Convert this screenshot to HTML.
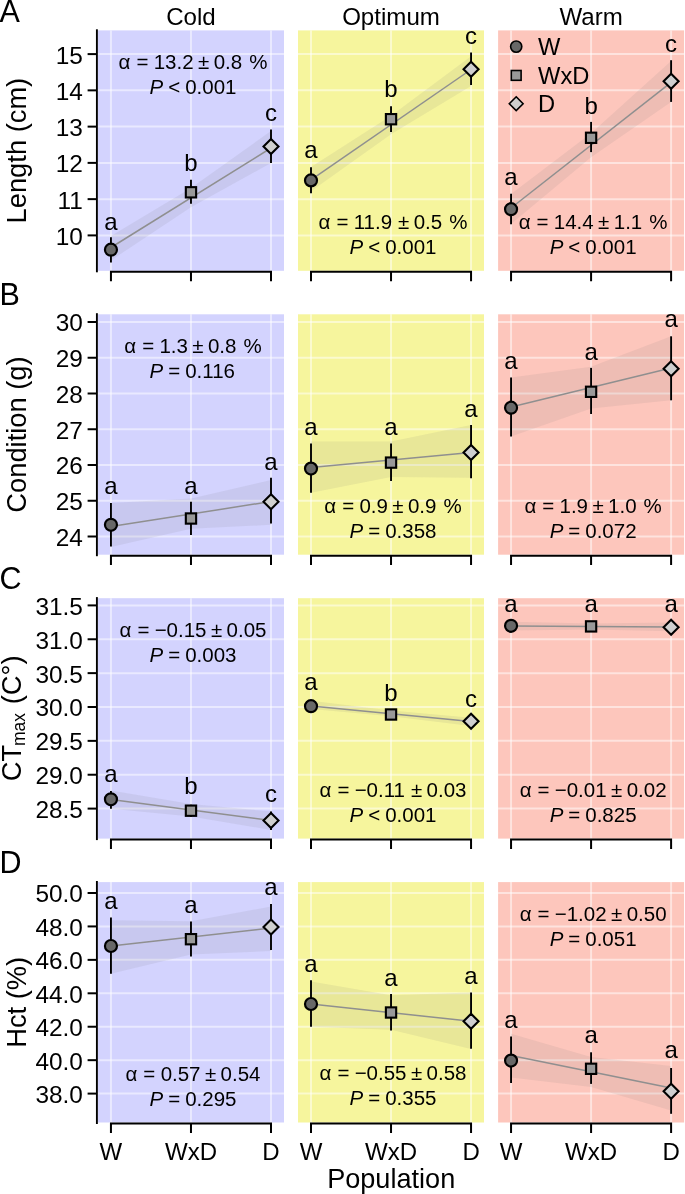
<!DOCTYPE html><html><head><meta charset="utf-8"><style>html,body{margin:0;padding:0;background:#fff;}svg{display:block;will-change:transform;}text{font-family:"Liberation Sans", sans-serif;}</style></head><body>
<svg width="685" height="1194" viewBox="0 0 685 1194">
<rect x="98" y="30.4" width="186" height="240.4" fill="rgb(211,211,254)"/>
<path d="M98 235.4H284M98 199.14H284M98 162.88H284M98 126.62H284M98 90.36H284M98 54.1H284" stroke="rgba(255,255,255,0.5)" stroke-width="2" fill="none"/>
<path d="M110.95 30.4V270.8M190.98 30.4V270.8M271 30.4V270.8" stroke="rgba(255,255,255,0.5)" stroke-width="2" fill="none"/>
<polygon points="110.95,236 190.98,188.01 271,131 271,163 190.98,207.19 110.95,260.4" fill="rgba(116,116,116,0.108)"/>
<line x1="110.95" y1="247.5" x2="271" y2="148" stroke="#8f8f8f" stroke-width="1.5"/>
<line x1="110.95" y1="237.2" x2="110.95" y2="262.5" stroke="#000" stroke-width="1.9"/>
<line x1="190.98" y1="179.7" x2="190.98" y2="203.7" stroke="#000" stroke-width="1.9"/>
<line x1="271" y1="129.5" x2="271" y2="163" stroke="#000" stroke-width="1.9"/>
<circle cx="110.95" cy="249.7" r="6" fill="#686868" stroke="#000" stroke-width="2.2"/>
<text x="110.95" y="229.6" font-size="24" text-anchor="middle">a</text>
<rect x="185.83" y="187.15" width="10.3" height="10.3" fill="#999" stroke="#000" stroke-width="2.1"/>
<text x="190.98" y="171.2" font-size="24" text-anchor="middle">b</text>
<path d="M271 138.9L278.5 146.4L271 153.9L263.5 146.4Z" fill="#cfcfcf" stroke="#000" stroke-width="2.1" stroke-linejoin="miter"/>
<text x="271" y="121" font-size="24" text-anchor="middle">c</text>
<text y="69" font-size="20.5"><tspan x="118.6">α</tspan><tspan x="136.45">=</tspan><tspan x="153.72">13.2</tspan><tspan x="198.02">±</tspan><tspan x="213.67">0.8</tspan><tspan x="249.17">%</tspan></text>
<text y="94" font-size="20.5"><tspan x="149.53" font-style="italic">P</tspan><tspan x="168.2"><</tspan><tspan x="185.17">0.001</tspan></text>
<path d="M109.95 271.8H272 M110.95 271.8V281.2 M190.98 271.8V281.2 M271 271.8V281.2" stroke="#000" stroke-width="2" fill="none"/>
<rect x="298" y="30.4" width="186" height="240.4" fill="rgb(246,245,157)"/>
<path d="M298 235.4H484M298 199.14H484M298 162.88H484M298 126.62H484M298 90.36H484M298 54.1H484" stroke="rgba(255,255,255,0.5)" stroke-width="2" fill="none"/>
<path d="M311 30.4V270.8M391.03 30.4V270.8M471.05 30.4V270.8" stroke="rgba(255,255,255,0.5)" stroke-width="2" fill="none"/>
<polygon points="311,166.9 391.03,115.87 471.05,56.2 471.05,85.9 391.03,134.23 311,191.2" fill="rgba(116,116,116,0.108)"/>
<line x1="311" y1="179.9" x2="471.05" y2="69.5" stroke="#8f8f8f" stroke-width="1.5"/>
<line x1="311" y1="167.2" x2="311" y2="193.3" stroke="#000" stroke-width="1.9"/>
<line x1="391.03" y1="106.3" x2="391.03" y2="132.1" stroke="#000" stroke-width="1.9"/>
<line x1="471.05" y1="52.5" x2="471.05" y2="84.9" stroke="#000" stroke-width="1.9"/>
<circle cx="311" cy="180.4" r="6" fill="#686868" stroke="#000" stroke-width="2.2"/>
<text x="311" y="158.4" font-size="24" text-anchor="middle">a</text>
<rect x="385.88" y="114.05" width="10.3" height="10.3" fill="#999" stroke="#000" stroke-width="2.1"/>
<text x="391.03" y="97.2" font-size="24" text-anchor="middle">b</text>
<path d="M471.05 61.7L478.55 69.2L471.05 76.7L463.55 69.2Z" fill="#cfcfcf" stroke="#000" stroke-width="2.1" stroke-linejoin="miter"/>
<text x="471.05" y="43.7" font-size="24" text-anchor="middle">c</text>
<text y="229" font-size="20.5"><tspan x="318.6">α</tspan><tspan x="336.45">=</tspan><tspan x="353.72">11.9</tspan><tspan x="398.02">±</tspan><tspan x="413.67">0.5</tspan><tspan x="449.17">%</tspan></text>
<text y="253.7" font-size="20.5"><tspan x="349.53" font-style="italic">P</tspan><tspan x="368.2"><</tspan><tspan x="385.17">0.001</tspan></text>
<path d="M310 271.8H472.05 M311 271.8V281.2 M391.03 271.8V281.2 M471.05 271.8V281.2" stroke="#000" stroke-width="2" fill="none"/>
<rect x="498.1" y="30.4" width="186" height="240.4" fill="rgb(253,198,188)"/>
<path d="M498.1 235.4H684.1M498.1 199.14H684.1M498.1 162.88H684.1M498.1 126.62H684.1M498.1 90.36H684.1M498.1 54.1H684.1" stroke="rgba(255,255,255,0.5)" stroke-width="2" fill="none"/>
<path d="M511.05 30.4V270.8M591.08 30.4V270.8M671.1 30.4V270.8" stroke="rgba(255,255,255,0.5)" stroke-width="2" fill="none"/>
<polygon points="511.05,194 591.08,133.18 671.1,61 671.1,102 591.08,157.32 511.05,224" fill="rgba(116,116,116,0.108)"/>
<line x1="511.05" y1="208" x2="671.1" y2="82.4" stroke="#8f8f8f" stroke-width="1.5"/>
<line x1="511.05" y1="193.8" x2="511.05" y2="224.3" stroke="#000" stroke-width="1.9"/>
<line x1="591.08" y1="121.9" x2="591.08" y2="152.1" stroke="#000" stroke-width="1.9"/>
<line x1="671.1" y1="60.2" x2="671.1" y2="101.9" stroke="#000" stroke-width="1.9"/>
<circle cx="511.05" cy="209.2" r="6" fill="#686868" stroke="#000" stroke-width="2.2"/>
<text x="511.05" y="185" font-size="24" text-anchor="middle">a</text>
<rect x="585.93" y="132.65" width="10.3" height="10.3" fill="#999" stroke="#000" stroke-width="2.1"/>
<text x="591.08" y="113.7" font-size="24" text-anchor="middle">b</text>
<path d="M671.1 73.8L678.6 81.3L671.1 88.8L663.6 81.3Z" fill="#cfcfcf" stroke="#000" stroke-width="2.1" stroke-linejoin="miter"/>
<text x="671.1" y="52" font-size="24" text-anchor="middle">c</text>
<text y="229" font-size="20.5"><tspan x="518.7">α</tspan><tspan x="536.55">=</tspan><tspan x="553.82">14.4</tspan><tspan x="598.12">±</tspan><tspan x="613.77">1.1</tspan><tspan x="649.27">%</tspan></text>
<text y="253.7" font-size="20.5"><tspan x="549.63" font-style="italic">P</tspan><tspan x="568.3"><</tspan><tspan x="585.27">0.001</tspan></text>
<path d="M510.05 271.8H672.1 M511.05 271.8V281.2 M591.08 271.8V281.2 M671.1 271.8V281.2" stroke="#000" stroke-width="2" fill="none"/>
<line x1="96.9" y1="29.3" x2="96.9" y2="272.3" stroke="#000" stroke-width="1.9"/>
<line x1="87.6" y1="235.4" x2="96.9" y2="235.4" stroke="#000" stroke-width="2"/>
<text x="82.9" y="244.8" font-size="24.4" text-anchor="end">10</text>
<line x1="87.6" y1="199.14" x2="96.9" y2="199.14" stroke="#000" stroke-width="2"/>
<text x="82.9" y="208.54" font-size="24.4" text-anchor="end">11</text>
<line x1="87.6" y1="162.88" x2="96.9" y2="162.88" stroke="#000" stroke-width="2"/>
<text x="82.9" y="172.28" font-size="24.4" text-anchor="end">12</text>
<line x1="87.6" y1="126.62" x2="96.9" y2="126.62" stroke="#000" stroke-width="2"/>
<text x="82.9" y="136.02" font-size="24.4" text-anchor="end">13</text>
<line x1="87.6" y1="90.36" x2="96.9" y2="90.36" stroke="#000" stroke-width="2"/>
<text x="82.9" y="99.76" font-size="24.4" text-anchor="end">14</text>
<line x1="87.6" y1="54.1" x2="96.9" y2="54.1" stroke="#000" stroke-width="2"/>
<text x="82.9" y="63.5" font-size="24.4" text-anchor="end">15</text>
<rect x="98" y="314.3" width="186" height="240.4" fill="rgb(211,211,254)"/>
<path d="M98 536.5H284M98 500.75H284M98 465H284M98 429.25H284M98 393.5H284M98 357.75H284M98 322H284" stroke="rgba(255,255,255,0.5)" stroke-width="2" fill="none"/>
<path d="M110.95 314.3V554.7M190.98 314.3V554.7M271 314.3V554.7" stroke="rgba(255,255,255,0.5)" stroke-width="2" fill="none"/>
<polygon points="110.95,503 190.98,498.6 271,480 271,524.8 190.98,528.8 110.95,547" fill="rgba(116,116,116,0.108)"/>
<line x1="110.95" y1="526.6" x2="271" y2="501.5" stroke="#8f8f8f" stroke-width="1.5"/>
<line x1="110.95" y1="503" x2="110.95" y2="546.5" stroke="#000" stroke-width="1.9"/>
<line x1="190.98" y1="501.7" x2="190.98" y2="535.1" stroke="#000" stroke-width="1.9"/>
<line x1="271" y1="477.8" x2="271" y2="523.4" stroke="#000" stroke-width="1.9"/>
<circle cx="110.95" cy="524.8" r="6" fill="#686868" stroke="#000" stroke-width="2.2"/>
<text x="110.95" y="494.4" font-size="24" text-anchor="middle">a</text>
<rect x="185.83" y="513.35" width="10.3" height="10.3" fill="#999" stroke="#000" stroke-width="2.1"/>
<text x="190.98" y="493.6" font-size="24" text-anchor="middle">a</text>
<path d="M271 494.2L278.5 501.7L271 509.2L263.5 501.7Z" fill="#cfcfcf" stroke="#000" stroke-width="2.1" stroke-linejoin="miter"/>
<text x="271" y="470" font-size="24" text-anchor="middle">a</text>
<text y="353.2" font-size="20.5"><tspan x="124.3">α</tspan><tspan x="142.15">=</tspan><tspan x="159.42">1.3</tspan><tspan x="192.32">±</tspan><tspan x="207.97">0.8</tspan><tspan x="243.47">%</tspan></text>
<text y="378.2" font-size="20.5"><tspan x="149.53" font-style="italic">P</tspan><tspan x="168.2">=</tspan><tspan x="185.17">0.116</tspan></text>
<path d="M109.95 555.7H272 M110.95 555.7V565.1 M190.98 555.7V565.1 M271 555.7V565.1" stroke="#000" stroke-width="2" fill="none"/>
<rect x="298" y="314.3" width="186" height="240.4" fill="rgb(246,245,157)"/>
<path d="M298 536.5H484M298 500.75H484M298 465H484M298 429.25H484M298 393.5H484M298 357.75H484M298 322H484" stroke="rgba(255,255,255,0.5)" stroke-width="2" fill="none"/>
<path d="M311 314.3V554.7M391.03 314.3V554.7M471.05 314.3V554.7" stroke="rgba(255,255,255,0.5)" stroke-width="2" fill="none"/>
<polygon points="311,441.5 391.03,441.56 471.05,425 471.05,477.7 391.03,476.89 311,492.7" fill="rgba(116,116,116,0.108)"/>
<line x1="311" y1="467.6" x2="471.05" y2="452.4" stroke="#8f8f8f" stroke-width="1.5"/>
<line x1="311" y1="443.4" x2="311" y2="492.7" stroke="#000" stroke-width="1.9"/>
<line x1="391.03" y1="443.4" x2="391.03" y2="481" stroke="#000" stroke-width="1.9"/>
<line x1="471.05" y1="425" x2="471.05" y2="478.2" stroke="#000" stroke-width="1.9"/>
<circle cx="311" cy="468.6" r="6" fill="#686868" stroke="#000" stroke-width="2.2"/>
<text x="311" y="434.6" font-size="24" text-anchor="middle">a</text>
<rect x="385.88" y="457.45" width="10.3" height="10.3" fill="#999" stroke="#000" stroke-width="2.1"/>
<text x="391.03" y="434.6" font-size="24" text-anchor="middle">a</text>
<path d="M471.05 444.9L478.55 452.4L471.05 459.9L463.55 452.4Z" fill="#cfcfcf" stroke="#000" stroke-width="2.1" stroke-linejoin="miter"/>
<text x="471.05" y="416.7" font-size="24" text-anchor="middle">a</text>
<text y="513.3" font-size="20.5"><tspan x="324.3">α</tspan><tspan x="342.15">=</tspan><tspan x="359.42">0.9</tspan><tspan x="392.32">±</tspan><tspan x="407.97">0.9</tspan><tspan x="443.47">%</tspan></text>
<text y="538" font-size="20.5"><tspan x="349.53" font-style="italic">P</tspan><tspan x="368.2">=</tspan><tspan x="385.17">0.358</tspan></text>
<path d="M310 555.7H472.05 M311 555.7V565.1 M391.03 555.7V565.1 M471.05 555.7V565.1" stroke="#000" stroke-width="2" fill="none"/>
<rect x="498.1" y="314.3" width="186" height="240.4" fill="rgb(253,198,188)"/>
<path d="M498.1 536.5H684.1M498.1 500.75H684.1M498.1 465H684.1M498.1 429.25H684.1M498.1 393.5H684.1M498.1 357.75H684.1M498.1 322H684.1" stroke="rgba(255,255,255,0.5)" stroke-width="2" fill="none"/>
<path d="M511.05 314.3V554.7M591.08 314.3V554.7M671.1 314.3V554.7" stroke="rgba(255,255,255,0.5)" stroke-width="2" fill="none"/>
<polygon points="511.05,377.5 591.08,366.74 671.1,336.3 671.1,400.3 591.08,408.56 511.05,436.5" fill="rgba(116,116,116,0.108)"/>
<line x1="511.05" y1="407" x2="671.1" y2="368" stroke="#8f8f8f" stroke-width="1.5"/>
<line x1="511.05" y1="377.5" x2="511.05" y2="436.5" stroke="#000" stroke-width="1.9"/>
<line x1="591.08" y1="367.9" x2="591.08" y2="414" stroke="#000" stroke-width="1.9"/>
<line x1="671.1" y1="336.3" x2="671.1" y2="400.3" stroke="#000" stroke-width="1.9"/>
<circle cx="511.05" cy="407.7" r="6" fill="#686868" stroke="#000" stroke-width="2.2"/>
<text x="511.05" y="369.3" font-size="24" text-anchor="middle">a</text>
<rect x="585.93" y="386.65" width="10.3" height="10.3" fill="#999" stroke="#000" stroke-width="2.1"/>
<text x="591.08" y="359.7" font-size="24" text-anchor="middle">a</text>
<path d="M671.1 361.2L678.6 368.7L671.1 376.2L663.6 368.7Z" fill="#cfcfcf" stroke="#000" stroke-width="2.1" stroke-linejoin="miter"/>
<text x="671.1" y="326.7" font-size="24" text-anchor="middle">a</text>
<text y="513.3" font-size="20.5"><tspan x="524.4">α</tspan><tspan x="542.25">=</tspan><tspan x="559.52">1.9</tspan><tspan x="592.42">±</tspan><tspan x="608.07">1.0</tspan><tspan x="643.57">%</tspan></text>
<text y="538" font-size="20.5"><tspan x="549.63" font-style="italic">P</tspan><tspan x="568.3">=</tspan><tspan x="585.27">0.072</tspan></text>
<path d="M510.05 555.7H672.1 M511.05 555.7V565.1 M591.08 555.7V565.1 M671.1 555.7V565.1" stroke="#000" stroke-width="2" fill="none"/>
<line x1="96.9" y1="313.2" x2="96.9" y2="556.2" stroke="#000" stroke-width="1.9"/>
<line x1="87.6" y1="536.5" x2="96.9" y2="536.5" stroke="#000" stroke-width="2"/>
<text x="82.9" y="545.9" font-size="24.4" text-anchor="end">24</text>
<line x1="87.6" y1="500.75" x2="96.9" y2="500.75" stroke="#000" stroke-width="2"/>
<text x="82.9" y="510.15" font-size="24.4" text-anchor="end">25</text>
<line x1="87.6" y1="465" x2="96.9" y2="465" stroke="#000" stroke-width="2"/>
<text x="82.9" y="474.4" font-size="24.4" text-anchor="end">26</text>
<line x1="87.6" y1="429.25" x2="96.9" y2="429.25" stroke="#000" stroke-width="2"/>
<text x="82.9" y="438.65" font-size="24.4" text-anchor="end">27</text>
<line x1="87.6" y1="393.5" x2="96.9" y2="393.5" stroke="#000" stroke-width="2"/>
<text x="82.9" y="402.9" font-size="24.4" text-anchor="end">28</text>
<line x1="87.6" y1="357.75" x2="96.9" y2="357.75" stroke="#000" stroke-width="2"/>
<text x="82.9" y="367.15" font-size="24.4" text-anchor="end">29</text>
<line x1="87.6" y1="322" x2="96.9" y2="322" stroke="#000" stroke-width="2"/>
<text x="82.9" y="331.4" font-size="24.4" text-anchor="end">30</text>
<rect x="98" y="598.2" width="186" height="240.4" fill="rgb(211,211,254)"/>
<path d="M98 808.6H284M98 774.73H284M98 740.87H284M98 707H284M98 673.13H284M98 639.27H284M98 605.4H284" stroke="rgba(255,255,255,0.5)" stroke-width="2" fill="none"/>
<path d="M110.95 598.2V838.6M190.98 598.2V838.6M271 598.2V838.6" stroke="rgba(255,255,255,0.5)" stroke-width="2" fill="none"/>
<polygon points="110.95,790.6 190.98,803.99 271,811.5 271,830 190.98,816.46 110.95,808.8" fill="rgba(116,116,116,0.108)"/>
<line x1="110.95" y1="799.5" x2="271" y2="820.5" stroke="#8f8f8f" stroke-width="1.5"/>
<line x1="110.95" y1="791.1" x2="110.95" y2="808.8" stroke="#000" stroke-width="1.9"/>
<line x1="190.98" y1="804.7" x2="190.98" y2="816.9" stroke="#000" stroke-width="1.9"/>
<line x1="271" y1="811.5" x2="271" y2="830" stroke="#000" stroke-width="1.9"/>
<circle cx="110.95" cy="799.3" r="6" fill="#686868" stroke="#000" stroke-width="2.2"/>
<text x="110.95" y="781.6" font-size="24" text-anchor="middle">a</text>
<rect x="185.83" y="805.55" width="10.3" height="10.3" fill="#999" stroke="#000" stroke-width="2.1"/>
<text x="190.98" y="793.9" font-size="24" text-anchor="middle">b</text>
<path d="M271 813L278.5 820.5L271 828L263.5 820.5Z" fill="#cfcfcf" stroke="#000" stroke-width="2.1" stroke-linejoin="miter"/>
<text x="271" y="802" font-size="24" text-anchor="middle">c</text>
<text y="637.2" font-size="20.5"><tspan x="119.53">α</tspan><tspan x="137.38">=</tspan><tspan x="154.65">−0.15</tspan><tspan x="210.92">±</tspan><tspan x="226.57">0.05</tspan></text>
<text y="662.2" font-size="20.5"><tspan x="149.53" font-style="italic">P</tspan><tspan x="168.2">=</tspan><tspan x="185.17">0.003</tspan></text>
<path d="M109.95 839.6H272 M110.95 839.6V849 M190.98 839.6V849 M271 839.6V849" stroke="#000" stroke-width="2" fill="none"/>
<rect x="298" y="598.2" width="186" height="240.4" fill="rgb(246,245,157)"/>
<path d="M298 808.6H484M298 774.73H484M298 740.87H484M298 707H484M298 673.13H484M298 639.27H484M298 605.4H484" stroke="rgba(255,255,255,0.5)" stroke-width="2" fill="none"/>
<path d="M311 598.2V838.6M391.03 598.2V838.6M471.05 598.2V838.6" stroke="rgba(255,255,255,0.5)" stroke-width="2" fill="none"/>
<polygon points="311,700.7 391.03,710.53 471.05,717.7 471.05,726 391.03,716.17 311,709" fill="rgba(116,116,116,0.108)"/>
<line x1="311" y1="706" x2="471.05" y2="721.5" stroke="#8f8f8f" stroke-width="1.5"/>
<line x1="311" y1="702" x2="311" y2="710" stroke="#000" stroke-width="1.9"/>
<line x1="391.03" y1="711" x2="391.03" y2="718" stroke="#000" stroke-width="1.9"/>
<line x1="471.05" y1="718" x2="471.05" y2="725" stroke="#000" stroke-width="1.9"/>
<circle cx="311" cy="706.2" r="6" fill="#686868" stroke="#000" stroke-width="2.2"/>
<text x="311" y="690.3" font-size="24" text-anchor="middle">a</text>
<rect x="385.88" y="709.35" width="10.3" height="10.3" fill="#999" stroke="#000" stroke-width="2.1"/>
<text x="391.03" y="700.7" font-size="24" text-anchor="middle">b</text>
<path d="M471.05 713.8L478.55 721.3L471.05 728.8L463.55 721.3Z" fill="#cfcfcf" stroke="#000" stroke-width="2.1" stroke-linejoin="miter"/>
<text x="471.05" y="706.8" font-size="24" text-anchor="middle">c</text>
<text y="796.8" font-size="20.5"><tspan x="319.53">α</tspan><tspan x="337.38">=</tspan><tspan x="354.65">−0.11</tspan><tspan x="410.92">±</tspan><tspan x="426.57">0.03</tspan></text>
<text y="822" font-size="20.5"><tspan x="349.53" font-style="italic">P</tspan><tspan x="368.2"><</tspan><tspan x="385.17">0.001</tspan></text>
<path d="M310 839.6H472.05 M311 839.6V849 M391.03 839.6V849 M471.05 839.6V849" stroke="#000" stroke-width="2" fill="none"/>
<rect x="498.1" y="598.2" width="186" height="240.4" fill="rgb(253,198,188)"/>
<path d="M498.1 808.6H684.1M498.1 774.73H684.1M498.1 740.87H684.1M498.1 707H684.1M498.1 673.13H684.1M498.1 639.27H684.1M498.1 605.4H684.1" stroke="rgba(255,255,255,0.5)" stroke-width="2" fill="none"/>
<path d="M511.05 598.2V838.6M591.08 598.2V838.6M671.1 598.2V838.6" stroke="rgba(255,255,255,0.5)" stroke-width="2" fill="none"/>
<polygon points="511.05,621.7 591.08,623.51 671.1,622.5 671.1,631.3 591.08,629.49 511.05,630.5" fill="rgba(116,116,116,0.108)"/>
<line x1="511.05" y1="626" x2="671.1" y2="627" stroke="#8f8f8f" stroke-width="1.5"/>
<line x1="511.05" y1="624" x2="511.05" y2="628" stroke="#000" stroke-width="1.9"/>
<line x1="591.08" y1="624" x2="591.08" y2="628" stroke="#000" stroke-width="1.9"/>
<line x1="671.1" y1="625" x2="671.1" y2="629" stroke="#000" stroke-width="1.9"/>
<circle cx="511.05" cy="625.8" r="6" fill="#686868" stroke="#000" stroke-width="2.2"/>
<text x="511.05" y="612.1" font-size="24" text-anchor="middle">a</text>
<rect x="585.93" y="621.25" width="10.3" height="10.3" fill="#999" stroke="#000" stroke-width="2.1"/>
<text x="591.08" y="612.1" font-size="24" text-anchor="middle">a</text>
<path d="M671.1 619.7L678.6 627.2L671.1 634.7L663.6 627.2Z" fill="#cfcfcf" stroke="#000" stroke-width="2.1" stroke-linejoin="miter"/>
<text x="671.1" y="612.1" font-size="24" text-anchor="middle">a</text>
<text y="796.8" font-size="20.5"><tspan x="519.63">α</tspan><tspan x="537.48">=</tspan><tspan x="554.75">−0.01</tspan><tspan x="611.02">±</tspan><tspan x="626.67">0.02</tspan></text>
<text y="822" font-size="20.5"><tspan x="549.63" font-style="italic">P</tspan><tspan x="568.3">=</tspan><tspan x="585.27">0.825</tspan></text>
<path d="M510.05 839.6H672.1 M511.05 839.6V849 M591.08 839.6V849 M671.1 839.6V849" stroke="#000" stroke-width="2" fill="none"/>
<line x1="96.9" y1="597.1" x2="96.9" y2="840.1" stroke="#000" stroke-width="1.9"/>
<line x1="87.6" y1="808.6" x2="96.9" y2="808.6" stroke="#000" stroke-width="2"/>
<text x="82.9" y="818" font-size="24.4" text-anchor="end">28.5</text>
<line x1="87.6" y1="774.73" x2="96.9" y2="774.73" stroke="#000" stroke-width="2"/>
<text x="82.9" y="784.13" font-size="24.4" text-anchor="end">29.0</text>
<line x1="87.6" y1="740.87" x2="96.9" y2="740.87" stroke="#000" stroke-width="2"/>
<text x="82.9" y="750.27" font-size="24.4" text-anchor="end">29.5</text>
<line x1="87.6" y1="707" x2="96.9" y2="707" stroke="#000" stroke-width="2"/>
<text x="82.9" y="716.4" font-size="24.4" text-anchor="end">30.0</text>
<line x1="87.6" y1="673.13" x2="96.9" y2="673.13" stroke="#000" stroke-width="2"/>
<text x="82.9" y="682.53" font-size="24.4" text-anchor="end">30.5</text>
<line x1="87.6" y1="639.27" x2="96.9" y2="639.27" stroke="#000" stroke-width="2"/>
<text x="82.9" y="648.67" font-size="24.4" text-anchor="end">31.0</text>
<line x1="87.6" y1="605.4" x2="96.9" y2="605.4" stroke="#000" stroke-width="2"/>
<text x="82.9" y="614.8" font-size="24.4" text-anchor="end">31.5</text>
<rect x="98" y="882.1" width="186" height="240.4" fill="rgb(211,211,254)"/>
<path d="M98 1093.6H284M98 1060.17H284M98 1026.73H284M98 993.3H284M98 959.87H284M98 926.43H284M98 893H284" stroke="rgba(255,255,255,0.5)" stroke-width="2" fill="none"/>
<path d="M110.95 882.1V1122.5M190.98 882.1V1122.5M271 882.1V1122.5" stroke="rgba(255,255,255,0.5)" stroke-width="2" fill="none"/>
<polygon points="110.95,920.2 190.98,921.24 271,906.6 271,951.1 190.98,954.56 110.95,973.7" fill="rgba(116,116,116,0.108)"/>
<line x1="110.95" y1="946" x2="271" y2="928" stroke="#8f8f8f" stroke-width="1.5"/>
<line x1="110.95" y1="917.5" x2="110.95" y2="973.7" stroke="#000" stroke-width="1.9"/>
<line x1="190.98" y1="921.5" x2="190.98" y2="956.6" stroke="#000" stroke-width="1.9"/>
<line x1="271" y1="903.9" x2="271" y2="950" stroke="#000" stroke-width="1.9"/>
<circle cx="110.95" cy="946" r="6" fill="#686868" stroke="#000" stroke-width="2.2"/>
<text x="110.95" y="908.5" font-size="24" text-anchor="middle">a</text>
<rect x="185.83" y="934.05" width="10.3" height="10.3" fill="#999" stroke="#000" stroke-width="2.1"/>
<text x="190.98" y="912.6" font-size="24" text-anchor="middle">a</text>
<path d="M271 919.5L278.5 927L271 934.5L263.5 927Z" fill="#cfcfcf" stroke="#000" stroke-width="2.1" stroke-linejoin="miter"/>
<text x="271" y="895" font-size="24" text-anchor="middle">a</text>
<text y="1081" font-size="20.5"><tspan x="125.51">α</tspan><tspan x="143.37">=</tspan><tspan x="160.64">0.57</tspan><tspan x="204.94">±</tspan><tspan x="220.59">0.54</tspan></text>
<text y="1105.9" font-size="20.5"><tspan x="149.53" font-style="italic">P</tspan><tspan x="168.2">=</tspan><tspan x="185.17">0.295</tspan></text>
<path d="M109.95 1123.5H272 M110.95 1123.5V1132.9 M190.98 1123.5V1132.9 M271 1123.5V1132.9" stroke="#000" stroke-width="2" fill="none"/>
<text x="110.95" y="1159.8" font-size="24" text-anchor="middle">W</text>
<text x="190.98" y="1159.8" font-size="24" text-anchor="middle">WxD</text>
<text x="271" y="1159.8" font-size="24" text-anchor="middle">D</text>
<rect x="298" y="882.1" width="186" height="240.4" fill="rgb(246,245,157)"/>
<path d="M298 1093.6H484M298 1060.17H484M298 1026.73H484M298 993.3H484M298 959.87H484M298 926.43H484M298 893H484" stroke="rgba(255,255,255,0.5)" stroke-width="2" fill="none"/>
<path d="M311 882.1V1122.5M391.03 882.1V1122.5M471.05 882.1V1122.5" stroke="rgba(255,255,255,0.5)" stroke-width="2" fill="none"/>
<polygon points="311,981.5 391.03,995.14 471.05,992.5 471.05,1049 391.03,1029.76 311,1026.8" fill="rgba(116,116,116,0.108)"/>
<line x1="311" y1="1004" x2="471.05" y2="1021.3" stroke="#8f8f8f" stroke-width="1.5"/>
<line x1="311" y1="980.2" x2="311" y2="1026.8" stroke="#000" stroke-width="1.9"/>
<line x1="391.03" y1="993.9" x2="391.03" y2="1030.4" stroke="#000" stroke-width="1.9"/>
<line x1="471.05" y1="992.5" x2="471.05" y2="1048.8" stroke="#000" stroke-width="1.9"/>
<circle cx="311" cy="1004" r="6" fill="#686868" stroke="#000" stroke-width="2.2"/>
<text x="311" y="971.9" font-size="24" text-anchor="middle">a</text>
<rect x="385.88" y="1007.35" width="10.3" height="10.3" fill="#999" stroke="#000" stroke-width="2.1"/>
<text x="391.03" y="985.7" font-size="24" text-anchor="middle">a</text>
<path d="M471.05 1013.8L478.55 1021.3L471.05 1028.8L463.55 1021.3Z" fill="#cfcfcf" stroke="#000" stroke-width="2.1" stroke-linejoin="miter"/>
<text x="471.05" y="984.3" font-size="24" text-anchor="middle">a</text>
<text y="1079.8" font-size="20.5"><tspan x="319.53">α</tspan><tspan x="337.38">=</tspan><tspan x="354.65">−0.55</tspan><tspan x="410.92">±</tspan><tspan x="426.57">0.58</tspan></text>
<text y="1105" font-size="20.5"><tspan x="349.53" font-style="italic">P</tspan><tspan x="368.2">=</tspan><tspan x="385.17">0.355</tspan></text>
<path d="M310 1123.5H472.05 M311 1123.5V1132.9 M391.03 1123.5V1132.9 M471.05 1123.5V1132.9" stroke="#000" stroke-width="2" fill="none"/>
<text x="311" y="1159.8" font-size="24" text-anchor="middle">W</text>
<text x="391.03" y="1159.8" font-size="24" text-anchor="middle">WxD</text>
<text x="471.05" y="1159.8" font-size="24" text-anchor="middle">D</text>
<rect x="498.1" y="882.1" width="186" height="240.4" fill="rgb(253,198,188)"/>
<path d="M498.1 1093.6H684.1M498.1 1060.17H684.1M498.1 1026.73H684.1M498.1 993.3H684.1M498.1 959.87H684.1M498.1 926.43H684.1M498.1 893H684.1" stroke="rgba(255,255,255,0.5)" stroke-width="2" fill="none"/>
<path d="M511.05 882.1V1122.5M591.08 882.1V1122.5M671.1 882.1V1122.5" stroke="rgba(255,255,255,0.5)" stroke-width="2" fill="none"/>
<polygon points="511.05,1033.7 591.08,1056.92 671.1,1066 671.1,1110.5 591.08,1086.98 511.05,1077.6" fill="rgba(116,116,116,0.108)"/>
<line x1="511.05" y1="1055.6" x2="671.1" y2="1088" stroke="#8f8f8f" stroke-width="1.5"/>
<line x1="511.05" y1="1036.4" x2="511.05" y2="1083.1" stroke="#000" stroke-width="1.9"/>
<line x1="591.08" y1="1052.3" x2="591.08" y2="1083.9" stroke="#000" stroke-width="1.9"/>
<line x1="671.1" y1="1068" x2="671.1" y2="1113.8" stroke="#000" stroke-width="1.9"/>
<circle cx="511.05" cy="1060.6" r="6" fill="#686868" stroke="#000" stroke-width="2.2"/>
<text x="511.05" y="1027.6" font-size="24" text-anchor="middle">a</text>
<rect x="585.93" y="1063.65" width="10.3" height="10.3" fill="#999" stroke="#000" stroke-width="2.1"/>
<text x="591.08" y="1043.3" font-size="24" text-anchor="middle">a</text>
<path d="M671.1 1083.8L678.6 1091.3L671.1 1098.8L663.6 1091.3Z" fill="#cfcfcf" stroke="#000" stroke-width="2.1" stroke-linejoin="miter"/>
<text x="671.1" y="1058.4" font-size="24" text-anchor="middle">a</text>
<text y="920.6" font-size="20.5"><tspan x="519.63">α</tspan><tspan x="537.48">=</tspan><tspan x="554.75">−1.02</tspan><tspan x="611.02">±</tspan><tspan x="626.67">0.50</tspan></text>
<text y="945.9" font-size="20.5"><tspan x="549.63" font-style="italic">P</tspan><tspan x="568.3">=</tspan><tspan x="585.27">0.051</tspan></text>
<path d="M510.05 1123.5H672.1 M511.05 1123.5V1132.9 M591.08 1123.5V1132.9 M671.1 1123.5V1132.9" stroke="#000" stroke-width="2" fill="none"/>
<text x="511.05" y="1159.8" font-size="24" text-anchor="middle">W</text>
<text x="591.08" y="1159.8" font-size="24" text-anchor="middle">WxD</text>
<text x="671.1" y="1159.8" font-size="24" text-anchor="middle">D</text>
<line x1="96.9" y1="881" x2="96.9" y2="1124" stroke="#000" stroke-width="1.9"/>
<line x1="87.6" y1="1093.6" x2="96.9" y2="1093.6" stroke="#000" stroke-width="2"/>
<text x="82.9" y="1103" font-size="24.4" text-anchor="end">38.0</text>
<line x1="87.6" y1="1060.17" x2="96.9" y2="1060.17" stroke="#000" stroke-width="2"/>
<text x="82.9" y="1069.57" font-size="24.4" text-anchor="end">40.0</text>
<line x1="87.6" y1="1026.73" x2="96.9" y2="1026.73" stroke="#000" stroke-width="2"/>
<text x="82.9" y="1036.13" font-size="24.4" text-anchor="end">42.0</text>
<line x1="87.6" y1="993.3" x2="96.9" y2="993.3" stroke="#000" stroke-width="2"/>
<text x="82.9" y="1002.7" font-size="24.4" text-anchor="end">44.0</text>
<line x1="87.6" y1="959.87" x2="96.9" y2="959.87" stroke="#000" stroke-width="2"/>
<text x="82.9" y="969.27" font-size="24.4" text-anchor="end">46.0</text>
<line x1="87.6" y1="926.43" x2="96.9" y2="926.43" stroke="#000" stroke-width="2"/>
<text x="82.9" y="935.83" font-size="24.4" text-anchor="end">48.0</text>
<line x1="87.6" y1="893" x2="96.9" y2="893" stroke="#000" stroke-width="2"/>
<text x="82.9" y="902.4" font-size="24.4" text-anchor="end">50.0</text>
<text x="191" y="24.8" font-size="24.1" text-anchor="middle">Cold</text>
<text x="391" y="24.8" font-size="24.1" text-anchor="middle">Optimum</text>
<text x="591.1" y="24.8" font-size="24.1" text-anchor="middle">Warm</text>
<text x="-0.6" y="21.7" font-size="30.5">A</text>
<text x="-0.6" y="305.3" font-size="30.5">B</text>
<text x="-0.6" y="589.1" font-size="30.5">C</text>
<text x="-0.6" y="872.8" font-size="30.5">D</text>
<text transform="translate(26.2 150.6) rotate(-90)" font-size="27.3" text-anchor="middle">Length (cm)</text>
<text transform="translate(26.2 434.5) rotate(-90)" font-size="27.3" text-anchor="middle">Condition (g)</text>
<text transform="translate(26.2 1002.3) rotate(-90)" font-size="27.3" text-anchor="middle">Hct (%)</text>
<text transform="translate(20.6 781.19) rotate(-90)" font-size="27.3"><tspan x="0">CT</tspan><tspan font-size="17.5" x="35.09" dy="4.5">max</tspan><tspan x="69.35" dy="-4.5"> (C°)</tspan></text>
<circle cx="516.2" cy="46.6" r="5.6" fill="#686868" stroke="#000" stroke-width="1.6"/>
<rect x="511.3" y="70.5" width="9.8" height="9.8" fill="#999" stroke="#000" stroke-width="1.6"/>
<path d="M516.2 96.8L523.1 103.7L516.2 110.6L509.3 103.7Z" fill="#cfcfcf" stroke="#000" stroke-width="1.6" stroke-linejoin="miter"/>
<text x="538.1" y="55.2" font-size="23.7">W</text>
<text x="538.1" y="83.6" font-size="23.7">WxD</text>
<text x="538.1" y="111.8" font-size="23.7">D</text>
<text x="391.2" y="1188.1" font-size="27.1" text-anchor="middle">Population</text>
</svg></body></html>
